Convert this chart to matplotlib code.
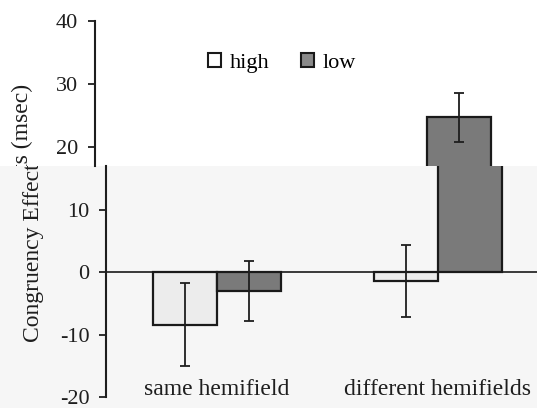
import matplotlib
matplotlib.use("Agg")
import matplotlib.pyplot as plt
import numpy as np
from matplotlib.patches import Patch, Rectangle
from matplotlib.transforms import Bbox, TransformedBbox

# ---- data ----
categories = ["same hemifield", "different hemifields"]
series_names = ["high", "low"]
high_vals = [-8.4, -1.4]
low_vals = [-3.0, 24.7]
high_err = [6.65, 5.75]
low_err = [4.8, 3.85]
y_ticks_top = [20, 30, 40]
y_ticks_bottom = [-20, -10, 0, 10]
y_label = "Congruency Effects (msec)"

plt.rcParams['font.family'] = ['Liberation Serif', 'DejaVu Serif']

W, H = 537, 408
fig = plt.figure(figsize=(W / 100, H / 100), dpi=100)
fig.patch.set_facecolor("white")

split_px = 166  # pixel row where the image changes
bg_gray = "#f6f6f6"
fig.patches.append(Rectangle((0, 0), 1, (H - split_px) / H, transform=fig.transFigure,
                             facecolor=bg_gray, edgecolor="none", zorder=-5))

x = np.arange(len(categories))
bw = 0.29
high_color = "#ececec"
low_color = "#7a7a7a"
edge = "#1a1a1a"
ink = "#1e1e1e"

def draw(ax, ylim, yticks):
    ax.bar(x - bw / 2, high_vals, bw, color=high_color, edgecolor=edge, linewidth=1.6, zorder=2)
    ax.bar(x + bw / 2, low_vals, bw, color=low_color, edgecolor=edge, linewidth=1.6, zorder=2)
    ax.errorbar(x - bw / 2, high_vals, yerr=high_err, fmt="none", ecolor=ink,
                elinewidth=1.3, capsize=3.3, capthick=1.3, zorder=3)
    ax.errorbar(x + bw / 2, low_vals, yerr=low_err, fmt="none", ecolor=ink,
                elinewidth=1.3, capsize=3.3, capthick=1.3, zorder=3)
    ax.set_xlim(-0.502, 1.448)
    ax.set_ylim(*ylim)
    ax.set_yticks(yticks)
    ax.set_yticklabels([str(t) for t in yticks], fontsize=16, color=ink)
    ax.tick_params(axis="y", length=5, width=1.3, pad=7, color=ink)
    ax.set_xticks([])
    for s in ["top", "right", "bottom"]:
        ax.spines[s].set_visible(False)
    ax.spines["left"].set_linewidth(1.5)
    ax.spines["left"].set_color(ink)

# lower part (shifted right)
ax_lo = fig.add_axes([106 / W, 11 / H, 431 / W, (397 - split_px) / H])
ax_lo.set_facecolor(bg_gray)
ax_lo.set_zorder(1)
draw(ax_lo, (-20, 17), y_ticks_bottom)
ax_lo.axhline(0, color=edge, linewidth=1.2, zorder=1)
for xi, lab in zip(x, categories):
    ax_lo.text(xi, -19.6, lab, ha="center", va="baseline", fontsize=17, color=ink)

# upper part
ax_up = fig.add_axes([95 / W, (H - split_px) / H, 431 / W, (split_px - 21) / H])
ax_up.set_facecolor("none")
ax_up.set_zorder(2)
draw(ax_up, (17, 40), y_ticks_top)

handles = [Patch(facecolor="white", edgecolor=edge, linewidth=1.5),
           Patch(facecolor="#8a8a8a", edgecolor=edge, linewidth=1.5)]
ax_up.legend(handles, series_names, loc="center", bbox_to_anchor=(0.434, 0.71),
             ncol=2, frameon=False, fontsize=16, handlelength=0.6, handleheight=0.6,
             handletextpad=0.4, columnspacing=1.4)

# y label, split into the two pieces
yc = (H - 213) / H
t_up = fig.text(22.5 / W, yc, y_label, rotation=90, ha="center", va="center",
                fontsize=17, color=ink, zorder=5)
t_up.set_clip_box(TransformedBbox(Bbox([[0, (H - split_px) / H], [1, 1]]), fig.transFigure))
t_up.set_clip_on(True)
t_lo = fig.text(33.5 / W, yc, y_label, rotation=90, ha="center", va="center",
                fontsize=17, color=ink, zorder=5)
t_lo.set_clip_box(TransformedBbox(Bbox([[0, 0], [1, (H - split_px) / H]]), fig.transFigure))
t_lo.set_clip_on(True)

fig.savefig("out.png", dpi=100)
